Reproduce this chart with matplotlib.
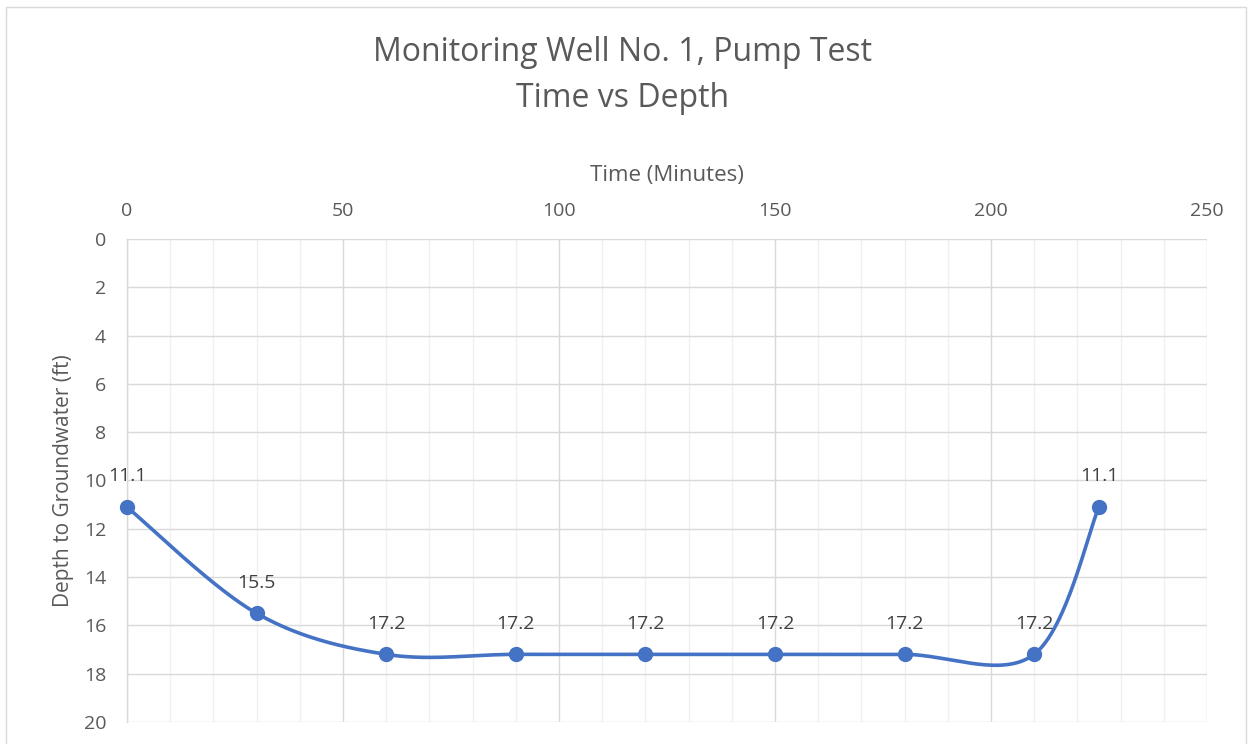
import numpy as np
import matplotlib
matplotlib.use("Agg")
import matplotlib.pyplot as plt
from matplotlib.patches import Rectangle
from matplotlib.ticker import MultipleLocator

# Pump test readings
time_min = [0, 30, 60, 90, 120, 150, 180, 210, 225]
depth_ft = [11.1, 15.5, 17.2, 17.2, 17.2, 17.2, 17.2, 17.2, 11.1]

title_lines = ["Monitoring Well No. 1, Pump Test", "Time vs Depth"]
x_title = "Time (Minutes)"
y_title = "Depth to Groundwater (ft)"

LINE = "#4472C4"
TEXT = "#595959"
LABEL = "#404040"

plt.rcParams["font.family"] = ["Open Sans", "DejaVu Sans"]


def smooth_curve(xs, ys, n=60):
    """Cardinal (Catmull-Rom style) Bezier smoothing through every point."""
    pts = np.column_stack([xs, ys]).astype(float)
    out = []
    for i in range(len(pts) - 1):
        p0 = pts[i - 1] if i > 0 else pts[i]
        p1 = pts[i]
        p2 = pts[i + 1]
        p3 = pts[i + 2] if i + 2 < len(pts) else pts[i + 1]
        c1 = p1 + (p2 - p0) / 6.0
        c2 = p2 - (p3 - p1) / 6.0
        t = np.linspace(0, 1, n)[:, None]
        seg = ((1 - t) ** 3) * p1 + 3 * ((1 - t) ** 2) * t * c1 \
            + 3 * (1 - t) * t ** 2 * c2 + t ** 3 * p2
        out.append(seg if i == 0 else seg[1:])
    curve = np.vstack(out)
    return curve[:, 0], curve[:, 1]


fig = plt.figure(figsize=(12.52, 7.44), dpi=100)
fig.patches.append(Rectangle((0.005, -0.01), 0.99, 1.0, transform=fig.transFigure,
                             fill=False, edgecolor="#D9D9D9", linewidth=1.0))

ax = fig.add_axes([0.1014, 0.0296, 0.8626, 0.6492])
ax.set_xlim(0, 250)
ax.set_ylim(20, 0)

ax.xaxis.set_major_locator(MultipleLocator(50))
ax.xaxis.set_minor_locator(MultipleLocator(10))
ax.yaxis.set_major_locator(MultipleLocator(2))

ax.grid(which="major", color="#D9D9D9", linewidth=1.0)
ax.grid(which="minor", axis="x", color="#F0F0F0", linewidth=1.0)
ax.set_axisbelow(True)

for side in ("top", "right", "bottom"):
    ax.spines[side].set_visible(False)
ax.spines["left"].set_color("#D9D9D9")
ax.spines["left"].set_linewidth(1.0)

ax.xaxis.tick_top()
ax.xaxis.set_label_position("top")
ax.tick_params(which="both", length=0, labelsize=14, colors=TEXT)
ax.tick_params(axis="x", pad=14)
ax.tick_params(axis="y", pad=15)

sx, sy = smooth_curve(time_min, depth_ft)
ax.plot(sx, sy, color=LINE, linewidth=2.6, solid_capstyle="round", clip_on=False)
ax.plot(time_min, depth_ft, linestyle="none", marker="o", markersize=10,
        color=LINE, clip_on=False, zorder=3)

for xv, yv in zip(time_min, depth_ft):
    ax.annotate(f"{yv:.1f}", (xv, yv), xytext=(0, 22), textcoords="offset points",
                ha="center", va="center", fontsize=14, color=LABEL)

ax.set_xlabel(x_title, fontsize=16, color=TEXT, labelpad=15)
ax.set_ylabel(y_title, fontsize=15, color=TEXT, labelpad=7)

fig.text(0.497, 0.930, title_lines[0], ha="center", va="center", fontsize=23, color=TEXT)
fig.text(0.497, 0.867, title_lines[1], ha="center", va="center", fontsize=23, color=TEXT)

fig.savefig("out.png", dpi=100)
